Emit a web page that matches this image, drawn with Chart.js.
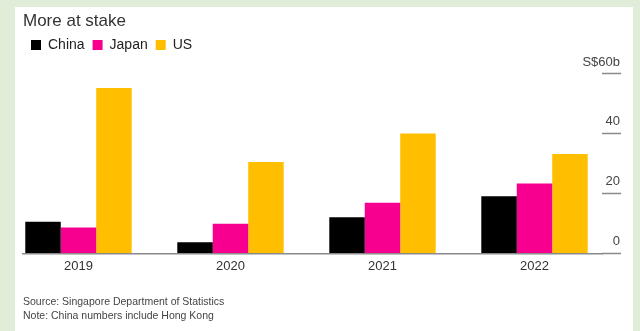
<!DOCTYPE html>
<html lang="en">
<head>
    <meta charset="UTF-8">
    <meta name="viewport" content="width=device-width, initial-scale=1.0">
    <title>More at stake</title>
    <script src="https://cdn.jsdelivr.net/npm/chart.js@4.4.1/dist/chart.umd.min.js"></script>
    <style>
        html, body { margin: 0; padding: 0; background: #e2edd9; overflow: hidden; }
        #panel { position: absolute; left: 15px; top: 7px; width: 618px; height: 324px; background: #fff; }
        #grafico { position: absolute; left: 0; top: 0; }
    </style>
</head>
<body>
    <div id="panel"></div>
    <canvas id="grafico" width="640" height="331"></canvas>

    <script>
    // S$ billions per year
    var anios = [2019, 2020, 2021, 2022];
    var china = [10.6, 3.7, 12.1, 19.1];
    var japon = [8.7, 9.9, 16.9, 23.4];
    var eeuu = [55.3, 30.6, 40.1, 33.2];
    var marcasY = [0, 20, 40, 60];

    function puntos(valores) {
        return anios.map(function (a, i) { return { x: a, y: valores[i] }; });
    }

    Chart.defaults.font.family = "'Liberation Sans', Arial, sans-serif";

    const ctx = document.getElementById('grafico');
    new Chart(ctx, {
        type: 'bar',
        data: {
            datasets: [{
                label: 'China',
                data: puntos(china),
                backgroundColor: '#000000'
            }, {
                label: 'Japan',
                data: puntos(japon),
                backgroundColor: '#f7008f'
            }, {
                label: 'US',
                data: puntos(eeuu),
                backgroundColor: '#ffbf00'
            }]
        },
        options: {
            responsive: false,
            devicePixelRatio: 1,
            animation: false,
            layout: { padding: { left: 23, right: 1, top: 0, bottom: 4 } },
            datasets: {
                bar: { barPercentage: 1, categoryPercentage: 0.7, borderWidth: 0 }
            },
            plugins: {
                tooltip: { enabled: false },
                title: {
                    display: true,
                    text: 'More at stake',
                    align: 'start',
                    color: '#333',
                    font: { size: 17, weight: 'normal', lineHeight: 1 },
                    padding: { top: 13, bottom: 0 }
                },
                legend: {
                    display: true,
                    position: 'top',
                    align: 'start',
                    labels: {
                        boxWidth: 10,
                        boxHeight: 10,
                        padding: 8,
                        color: '#222',
                        font: { size: 14 }
                    }
                },
                subtitle: {
                    display: true,
                    position: 'bottom',
                    align: 'start',
                    text: ['Source: Singapore Department of Statistics', 'Note: China numbers include Hong Kong'],
                    color: '#444',
                    font: { size: 10.5, lineHeight: '14px' },
                    padding: { top: 16, bottom: 4 }
                }
            },
            scales: {
                x: {
                    type: 'linear',
                    offset: false,
                    min: 2018.635,
                    max: 2022.444,
                    grid: { display: false, drawTicks: false, offset: false },
                    border: { display: true, color: '#8a8a8a', width: 1.5 },
                    ticks: {
                        stepSize: 1,
                        includeBounds: false,
                        autoSkip: false,
                        maxRotation: 0,
                        padding: 5,
                        color: '#333',
                        font: { size: 13 },
                        callback: function (v) { return String(v); }
                    }
                },
                y: {
                    position: 'right',
                    min: 0,
                    max: 64,
                    grid: {
                        drawOnChartArea: false,
                        drawTicks: true,
                        tickLength: 19,
                        tickColor: '#8a8a8a',
                        tickWidth: 1.5
                    },
                    border: { display: false },
                    afterFit: function (eje) {
                        // short tick dash plus room for the right-aligned labels
                        eje.width = 37;
                    },
                    afterBuildTicks: function (eje) {
                        eje.ticks = marcasY.map(function (v) { return { value: v }; });
                    },
                    ticks: {
                        mirror: true,
                        padding: 18,
                        labelOffset: -12,
                        color: '#444',
                        font: { size: 13 },
                        callback: function (v) { return v === 60 ? 'S$60b' : v; }
                    }
                }
            }
        }
    });
    </script>
</body>
</html>
